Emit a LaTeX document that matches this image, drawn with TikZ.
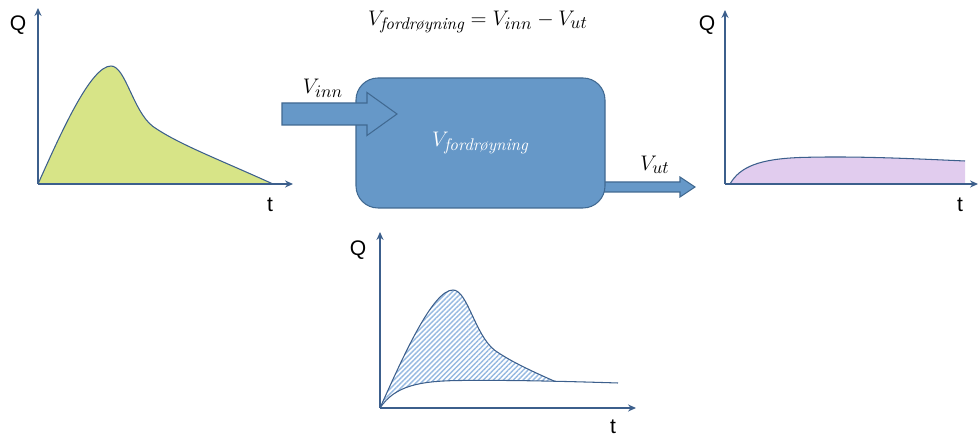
\documentclass[tikz,border=0pt]{standalone}
\usepackage{amsmath}
\usepackage{fontspec}
\setsansfont{Liberation Sans}
\DeclareMathSizes{12}{12}{9.6}{7}
\usetikzlibrary{arrows.meta,positioning,calc,patterns.meta}

\definecolor{axisblue}{RGB}{60,95,140}
\definecolor{boxblue}{RGB}{102,152,200}
\definecolor{boxline}{RGB}{65,105,145}
\definecolor{inflow}{RGB}{215,228,135}
\definecolor{outflow}{RGB}{225,204,238}
\definecolor{hatchblue}{RGB}{150,185,225}

\begin{document}
\begin{tikzpicture}[>=Stealth, line width=0.9pt,
  axis/.style={->, >={Stealth[length=4.5pt,width=4pt]}, draw=axisblue, line width=1.1pt},
  curve/.style={draw=axisblue, line width=0.6pt},
  lbl/.style={font=\sffamily\large},
  blockarrow/.style={fill=boxblue, draw=boxline, line width=0.6pt}]
  \useasboundingbox (0,0) rectangle (19.56,8.72);

  % innløp
  \begin{scope}[shift={(0.76,5.04)}]
    \fill[inflow] (0,0) .. controls (0.45,1.0) and (1.05,2.36) .. (1.46,2.36)
      .. controls (1.75,2.36) and (1.9,1.45) .. (2.3,1.15)
      .. controls (2.8,0.8) and (3.6,0.5) .. (4.7,0) -- cycle;
    \draw[curve] (0,0) .. controls (0.45,1.0) and (1.05,2.36) .. (1.46,2.36)
      .. controls (1.75,2.36) and (1.9,1.45) .. (2.3,1.15)
      .. controls (2.8,0.8) and (3.6,0.5) .. (4.7,0);
    \draw[axis] (0,0) -- (5.1,0);
    \draw[axis] (0,0) -- (0,3.52);
    \node[lbl] (q1) at (-0.4,3.18) {Q};
    \node[lbl] (t1) at (4.64,-0.42) {t};
  \end{scope}

  % utløp
  \begin{scope}[shift={(14.5,5.04)}]
    \fill[outflow] (0.1,0) .. controls (0.3,0.35) and (0.7,0.5) .. (1.5,0.53)
      .. controls (2.5,0.56) and (3.5,0.52) .. (4.8,0.46) -- (4.8,0) -- cycle;
    \draw[curve] (0.1,0) .. controls (0.3,0.35) and (0.7,0.5) .. (1.5,0.53)
      .. controls (2.5,0.56) and (3.5,0.52) .. (4.8,0.46);
    \draw[axis] (0,0) -- (5.06,0);
    \draw[axis] (0,0) -- (0,3.48);
    \node[lbl] (q2) at (-0.36,3.18) {Q};
    \node[lbl] (t2) at (4.7,-0.42) {t};
  \end{scope}

  % fordrøyd volum
  \begin{scope}[shift={(7.6,0.56)}]
    \begin{scope}
      \clip (0,0) .. controls (0.3,0.45) and (0.8,0.54) .. (1.6,0.55)
        .. controls (2.5,0.56) and (3.5,0.54) .. (4.76,0.5) -- (4.76,3) -- (0,3) -- cycle;
      \fill[pattern={Lines[angle=45,distance=2pt,line width=0.8pt]}, pattern color=hatchblue]
        (0,0) .. controls (0.45,1.0) and (1.05,2.36) .. (1.46,2.36)
        .. controls (1.75,2.36) and (1.9,1.45) .. (2.3,1.15)
        .. controls (2.8,0.8) and (3.6,0.5) .. (4.7,0) -- cycle;
      \draw[curve] (0,0) .. controls (0.45,1.0) and (1.05,2.36) .. (1.46,2.36)
        .. controls (1.75,2.36) and (1.9,1.45) .. (2.3,1.15)
        .. controls (2.8,0.8) and (3.6,0.5) .. (4.7,0);
    \end{scope}
    \draw[curve] (0,0) .. controls (0.3,0.45) and (0.8,0.54) .. (1.6,0.55)
      .. controls (2.5,0.56) and (3.5,0.54) .. (4.76,0.5);
    \draw[axis] (0,0) -- (5.12,0);
    \draw[axis] (0,0) -- (0,3.52);
    \node[lbl] (q3) at (-0.44,3.16) {Q};
    \node[lbl] (t3) at (4.66,-0.38) {t};
  \end{scope}

  % magasin
  \draw[blockarrow] (12.0,5.08) -- (13.6,5.08) -- (13.6,5.18) -- (13.9,4.98)
    -- (13.6,4.78) -- (13.6,4.88) -- (12.0,4.88) -- cycle;
  \node[draw=boxline, fill=boxblue, line width=0.6pt, rounded corners=0.44cm,
    minimum width=4.98cm, minimum height=2.6cm, text=white, font=\large]
    (store) at (9.61,5.86) {$V_{\textit{fordrøyning}}$};
  \draw[blockarrow] (5.64,6.66) -- (7.34,6.66) -- (7.34,6.87) -- (7.94,6.44)
    -- (7.34,6.01) -- (7.34,6.22) -- (5.64,6.22) -- cycle;

  \node[font=\large] (vinn) at (6.46,6.96) {$V_{inn}$};
  \node[font=\large] (vut) at (13.1,5.42) {$V_{ut}$};
  \node[font=\large] (eq) at (9.56,8.28) {$V_{\textit{fordrøyning}} = V_{inn} - V_{ut}$};
\end{tikzpicture}
\end{document}
